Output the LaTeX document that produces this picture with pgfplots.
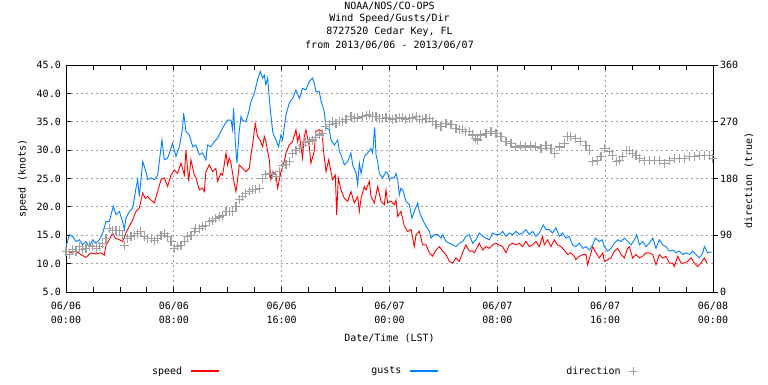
\documentclass[border=0pt]{standalone}
\usepackage{fontspec}
\setmainfont{DejaVu Sans Mono}
\usepackage{pgfplots}
\pgfplotsset{compat=1.18}
\definecolor{spd}{RGB}{255,0,0}
\definecolor{gst}{RGB}{0,128,255}
\definecolor{dirc}{RGB}{160,160,160}
\definecolor{gridc}{RGB}{160,160,160}
\pgfplotsset{
  speedleg/.style={legend image code/.code={\draw[color=spd, line width=1.2pt] (0pt,0pt) -- (28pt,0pt);}},
  gustleg/.style={legend image code/.code={\draw[color=gst, line width=1.2pt] (0pt,0pt) -- (28pt,0pt);}},
  dirleg/.style={legend image code/.code={\draw[color=dirc, line width=1pt] (16pt,0pt) -- (24pt,0pt) (20pt,-4pt) -- (20pt,4pt);}},
}
\begin{document}
\begin{tikzpicture}[x=1pt,y=1pt]
\path[use as bounding box] (0,0) rectangle (768,384);
\node[font=\fontsize{10}{13}\selectfont] at (389.5,378) {NOAA/NOS/CO-OPS};
\node[font=\fontsize{10}{13}\selectfont] at (389.5,365) {Wind Speed/Gusts/Dir};
\node[font=\fontsize{10}{13}\selectfont] at (389.5,352) {8727520 Cedar Key, FL};
\node[font=\fontsize{10}{13}\selectfont] at (389.5,339) {from 2013/06/06 - 2013/06/07};
\begin{axis}[
  at={(66pt,92pt)}, anchor=south west,
  scale only axis, width=647pt, height=227pt,
  xmin=0, xmax=48, ymin=5, ymax=45,
  font=\fontsize{10}{13.5}\selectfont,
  /pgf/number format/assume math mode=true,
  xtick={0,8,...,48},
  xticklabels={{06/06\\00:00},{06/06\\08:00},{06/06\\16:00},{06/07\\00:00},{06/07\\08:00},{06/07\\16:00},{06/08\\00:00}},
  xticklabel style={align=center, inner sep=0pt, anchor=north, yshift=-10pt},
  minor x tick num=3,
  ytick={5,10,...,45},
  yticklabel style={/pgf/number format/.cd, fixed, fixed zerofill, precision=1, /tikz/.cd, inner sep=0pt, anchor=east, xshift=-5pt},
  tick align=inside,
  xtick pos=both, xticklabel pos=bottom,
  ytick pos=left,
  axis line style={line width=1pt},
  major tick length=5pt, minor tick length=5pt,
  tick style={black, line width=0.8pt},
  grid=major,
  major grid style={gridc, dash pattern=on 2pt off 3pt, line width=0.8pt},
  xlabel={Date/Time (LST)},
  xlabel style={at={(axis description cs:0.5,-0.2026)}, anchor=center},
  ylabel={speed (knots)},
  ylabel style={at={(axis description cs:-0.0665,0.5)}, anchor=center},
  legend columns=3,
  legend plot pos=right,
  legend style={draw=none, inner sep=0pt, at={(axis description cs:0.0958,-0.348)}, anchor=west,
    nodes={inner sep=0pt},
    /tikz/every odd column/.append style={column sep=8pt},
    /tikz/every even column/.append style={column sep=128pt}},
]
\addplot[spd, line width=0.9pt, speedleg] coordinates {
(0.12,12.2)(0.37,11.9)(0.74,12.2)(1.11,11.6)(1.48,11.1)(1.85,11.9)(2.23,11.7)(2.6,11.9)(2.84,11.5)(2.97,13.3)(3.21,14.2)(3.46,15.4)(3.66,14.5)(3.96,14.2)(4.2,13.9)(4.45,15.4)(4.7,16.6)(4.95,17.7)(5.19,19.2)(5.44,19.8)(5.69,22.4)(5.89,21.5)(6.06,21.8)(6.31,21.2)(6.55,20.7)(6.8,22.7)(7.05,24.8)(7.29,25.1)(7.54,23.6)(7.79,25.6)(8.04,26.5)(8.28,25.9)(8.53,27.7)(8.78,25.6)(8.9,30.0)(9.1,24.5)(9.27,28.3)(9.52,25.6)
(9.64,25.1)(9.89,23.0)(10.13,23.3)(10.26,22.7)(10.38,26.2)(10.63,27.4)(10.88,26.2)(11.12,26.8)(11.25,24.5)(11.49,25.9)(11.62,25.6)(11.87,29.5)(11.99,27.4)(12.11,28.6)(12.24,27.7)(12.36,25.9)(12.48,24.2)(12.61,22.7)(12.73,24.8)(12.85,27.4)(13.1,26.8)(13.35,26.2)(13.6,26.8)(13.72,29.2)(13.84,30.9)(14.04,34.7)(14.21,32.4)(14.39,31.8)(14.59,30.6)(14.71,32.4)(14.83,31.5)(15.08,28.3)(15.2,24.8)(15.33,26.2)(15.57,25.6)(15.7,23.3)(15.95,26.2)(16.19,28.0)(16.32,29.5)(16.56,30.9)(16.81,31.5)(17.06,33.6)(17.18,31.5)(17.31,32.7)(17.43,30.6)(17.55,28.6)(17.68,32.4)(17.8,33.6)(18.05,30.6)(18.17,27.7)(18.42,29.8)(18.54,33.3)(18.79,33.6)(18.99,33.3)(19.11,29.8)
(19.29,26.2)(19.49,28.3)(19.66,26.2)(19.78,24.8)(19.98,25.6)(20.08,18.6)(20.2,25.1)(20.4,23.0)(20.65,21.5)(20.9,21.0)(21.14,22.7)(21.39,20.7)(21.64,21.8)(21.76,19.2)(21.89,21.5)(22.13,23.6)(22.26,23.0)(22.5,24.5)(22.63,21.8)(22.88,20.7)(23.12,23.6)(23.37,21.0)(23.62,20.4)(23.74,23.0)(23.86,20.7)(24.11,21.0)(24.36,20.4)(24.48,21.2)(24.61,18.3)(24.85,19.2)(25.1,16.6)(25.35,15.7)(25.6,16.0)(25.84,13.0)(25.97,15.1)(26.21,15.7)(26.46,13.3)(26.71,13.3)(26.96,11.9)(27.2,11.3)(27.45,12.4)(27.7,13.0)(27.95,12.2)(28.19,11.6)(28.44,10.4)(28.69,10.1)
(28.93,11.0)(29.18,10.4)(29.42,11.9)(29.67,13.3)(29.92,12.2)(30.17,12.2)(30.29,11.9)(30.54,13.0)(30.66,13.6)(30.91,12.4)(31.16,13.0)(31.4,12.7)(31.65,13.3)(31.9,13.6)(32.14,13.3)(32.39,13.0)(32.64,11.9)(32.89,13.3)(33.13,13.6)(33.38,13.3)(33.63,13.6)(33.88,13.0)(34.12,13.9)(34.37,13.0)(34.62,13.3)(34.86,13.9)(35.11,13.0)(35.36,14.8)(35.48,13.3)(35.73,14.2)(35.98,13.0)(36.22,14.2)(36.47,13.3)(36.72,13.0)(36.97,12.4)(37.21,11.6)(37.46,11.9)(37.71,11.3)(37.83,10.7)(38.08,11.3)(38.33,11.6)
(38.58,11.6)(38.7,9.8)(38.95,11.9)(39.07,13.0)(39.32,11.9)(39.57,11.0)(39.82,11.9)(39.94,10.4)(40.19,10.7)(40.43,11.0)(40.68,12.2)(40.93,12.7)(41.18,11.6)(41.42,11.0)(41.67,12.7)(41.79,13.0)(42.04,11.0)(42.29,11.6)(42.54,11.0)(42.78,11.3)(43.03,11.9)(43.28,11.9)(43.53,11.6)(43.77,9.8)(44.02,11.6)(44.27,11.0)(44.51,11.3)(44.76,10.1)(45.01,10.1)(45.13,9.5)(45.38,11.3)(45.63,10.1)(45.87,10.1)(46.12,10.4)(46.37,11.0)(46.62,10.1)(46.86,9.5)(47.11,10.1)(47.36,11.0)(47.56,10.1)
};
\addlegendentry{\makebox[54pt][r]{speed}}
\addplot[gst, line width=0.9pt, gustleg] coordinates {
(0.0,13.0)(0.25,15.1)(0.49,14.8)(0.74,13.9)(0.99,14.2)(1.24,13.3)(1.48,13.9)(1.73,13.0)(1.98,14.2)(2.23,13.6)(2.47,14.2)(2.72,15.4)(2.97,17.4)(3.21,17.4)(3.51,20.1)(3.71,18.6)(3.96,19.2)(4.2,17.4)(4.33,16.0)(4.45,18.0)(4.7,19.2)(4.95,19.8)(5.19,23.3)(5.32,24.8)(5.44,21.8)(5.69,28.0)(5.93,26.2)(6.06,24.8)(6.31,25.1)(6.55,24.8)(6.8,25.6)(6.97,28.9)(7.12,31.8)(7.29,28.3)(7.54,28.6)(7.79,30.3)(7.91,31.2)(8.16,28.9)(8.41,30.6)(8.65,33.9)(8.73,36.5)(8.9,33.3)(9.15,32.7)(9.4,30.6)
(9.64,30.9)(9.89,29.2)(10.13,29.5)(10.38,28.3)(10.5,30.9)(10.75,30.6)(11.0,31.5)(11.25,32.1)(11.49,33.3)(11.74,34.4)(11.99,35.3)(12.24,35.3)(12.36,33.6)(12.43,37.4)(12.56,31.5)(12.68,27.7)(12.85,33.3)(12.98,35.9)(13.1,35.3)(13.35,35.0)(13.6,37.1)(13.72,38.5)(13.97,40.0)(14.21,42.4)(14.41,43.9)(14.59,42.7)(14.71,43.2)(14.83,41.5)(14.96,42.7)(15.08,39.1)(15.2,36.2)(15.33,33.3)(15.45,32.4)(15.57,31.8)(15.77,30.6)(15.95,32.7)(16.07,31.8)(16.32,36.2)(16.56,38.3)(16.81,39.1)(17.06,40.6)(17.31,39.1)(17.55,40.9)(17.8,40.6)(18.05,42.1)(18.29,42.7)(18.42,41.8)(18.54,40.3)(18.79,40.3)(18.91,38.8)(19.16,36.8)
(19.29,33.9)(19.54,33.6)(19.66,31.8)(19.91,30.9)(20.16,31.8)(20.28,29.8)(20.4,29.2)(20.65,27.4)(20.9,28.0)(21.14,29.5)(21.27,27.4)(21.52,25.9)(21.64,23.9)(21.76,27.7)(21.89,25.9)(22.13,28.9)(22.38,29.5)(22.63,30.3)(22.75,29.5)(22.9,34.0)(23.0,29.2)(23.12,28.0)(23.25,25.9)(23.49,25.1)(23.74,26.2)(23.86,25.9)(23.99,24.8)(24.11,25.1)(24.36,25.1)(24.48,25.9)(24.61,24.8)(24.73,22.1)(24.85,23.3)(24.98,23.0)(25.22,21.0)(25.47,20.4)(25.67,18.0)(25.84,19.2)(26.09,20.7)(26.21,19.2)(26.46,17.7)(26.71,16.6)(26.96,15.7)(27.08,14.5)(27.33,15.1)(27.57,15.1)(27.82,14.5)(27.95,15.1)(28.19,13.9)(28.44,13.6)(28.69,13.3)
(28.93,13.0)(29.18,13.6)(29.42,13.9)(29.67,14.8)(29.92,15.1)(30.17,13.6)(30.41,14.2)(30.66,15.4)(30.91,14.8)(31.16,14.5)(31.4,14.2)(31.65,15.4)(31.9,15.1)(32.14,15.1)(32.39,15.7)(32.64,14.8)(32.89,15.4)(33.13,15.1)(33.38,15.7)(33.63,15.1)(33.88,15.4)(34.12,16.0)(34.37,15.1)(34.62,15.7)(34.86,14.8)(35.11,15.4)(35.41,16.8)(35.61,16.0)(35.85,16.0)(36.1,15.4)(36.35,16.3)(36.6,14.8)(36.84,15.4)(37.09,14.5)(37.34,14.8)(37.58,13.3)(37.83,13.0)(38.08,13.6)(38.33,12.7)
(38.58,13.0)(38.83,12.4)(39.07,13.3)(39.27,14.5)(39.57,13.9)(39.77,14.2)(39.94,13.0)(40.19,12.2)(40.43,12.7)(40.68,13.6)(40.93,14.2)(41.18,13.9)(41.42,14.5)(41.67,13.9)(41.92,13.3)(42.17,14.2)(42.34,15.1)(42.54,13.3)(42.78,13.9)(43.03,13.0)(43.28,13.6)(43.53,14.5)(43.77,12.7)(44.02,14.2)(44.27,13.3)(44.51,13.0)(44.76,12.2)(45.01,12.4)(45.26,11.9)(45.5,12.2)(45.75,11.6)(46.0,11.9)(46.25,11.6)(46.49,12.2)(46.74,11.6)(46.99,11.0)(47.24,11.9)(47.36,13.0)(47.61,11.9)(47.9,12.1)
};
\addlegendentry{\makebox[54pt][r]{gusts}}
\addlegendimage{dirc, dirleg}
\addlegendentry{\makebox[54pt][r]{direction}}
\end{axis}
\begin{axis}[
  at={(66pt,92pt)}, anchor=south west,
  scale only axis, width=647pt, height=227pt,
  xmin=0, xmax=48, ymin=0, ymax=360,
  font=\fontsize{10}{13.5}\selectfont,
  /pgf/number format/assume math mode=true,
  axis x line=none,
  axis y line*=right,
  axis line style={line width=1pt, -},
  ytick={0,90,...,360},
  tick align=outside,
  major tick length=5pt,
  tick style={black, line width=0.8pt},
  yticklabel style={inner sep=0pt, anchor=west, xshift=2pt},
  ylabel={direction (true)},
  ylabel style={at={(axis description cs:1.0556,0.49)}, anchor=center},
]
\addplot[dirc, only marks, mark=+, mark size=4.5pt, line width=1.1pt] coordinates {
(0,64)(0.25,59)(0.49,67)(0.74,64)(0.99,72)(1.24,67)(1.48,69)(1.73,74)(1.98,72)(2.23,69)(2.47,72)(2.72,77)(2.97,85)(3.21,101)(3.46,98)(3.71,98)(3.96,98)(4.2,90)(4.33,74)(4.57,85)(4.82,88)(5.07,90)(5.32,93)(5.56,96)(5.81,88)(6.06,85)(6.31,85)(6.55,82)(6.8,85)(7.05,90)(7.29,93)(7.54,88)(7.79,80)(8.04,69)(8.28,72)(8.53,74)(8.78,80)(9.03,88)(9.27,90)(9.52,96)
(9.64,101)(9.89,101)(10.13,104)(10.38,106)(10.63,112)(10.88,113)(11.12,117)(11.37,119)(11.62,122)(11.87,127)(12.11,127)(12.36,127)(12.61,135)(12.85,146)(13.1,151)(13.35,156)(13.6,160)(13.84,162)(14.09,162)(14.34,164)(14.59,180)(14.83,186)(15.08,188)(15.33,186)(15.57,183)(15.82,191)(16.07,201)(16.32,202)(16.56,207)(16.81,220)(17.06,224)(17.31,228)(17.55,233)(17.8,237)(18.05,239)(18.29,241)(18.54,245)(18.79,249)(19.04,252)(19.28,262)
(19.54,266)(19.78,270)(20.03,267)(20.28,270)(20.53,271)(20.77,273)(21.14,278)(21.39,275)(21.64,276)(22.01,278)(22.26,280)(22.5,281)(22.75,278)(23.0,278)(23.25,275)(23.49,275)(23.74,276)(23.99,275)(24.24,273)(24.48,275)(24.73,276)(24.98,276)(25.22,274)(25.47,275)(25.72,276)(25.97,278)(26.21,274)(26.46,273)(26.71,275)(26.96,275)(27.2,270)(27.45,265)(27.82,262)(28.19,267)(28.56,265)
(28.93,260)(29.18,258)(29.42,257)(29.67,255)(29.92,254)(30.17,249)(30.41,244)(30.54,241)(30.78,249)(31.16,252)(31.53,254)(31.9,252)(32.27,246)(32.64,238)(33.01,236)(33.38,230)(33.75,233)(34.12,230)(34.49,233)(34.86,230)(35.24,228)(35.61,233)(35.98,228)(36.22,220)(36.6,230)(36.97,236)(37.21,246)(37.46,246)(37.83,244)(38.2,238)
(38.58,232)(38.83,225)(39.07,207)(39.45,209)(39.69,215)(39.94,228)(40.31,223)(40.56,217)(40.81,207)(41.05,209)(41.3,215)(41.55,225)(41.79,225)(42.04,220)(42.29,217)(42.54,212)(42.91,209)(43.28,209)(43.65,209)(44.02,209)(44.39,204)(44.76,209)(45.13,212)(45.5,212)(45.87,212)(46.25,215)(46.62,215)(46.99,217)(47.36,217)(47.73,217)(47.95,212)
};
\end{axis}
\end{tikzpicture}
\end{document}
